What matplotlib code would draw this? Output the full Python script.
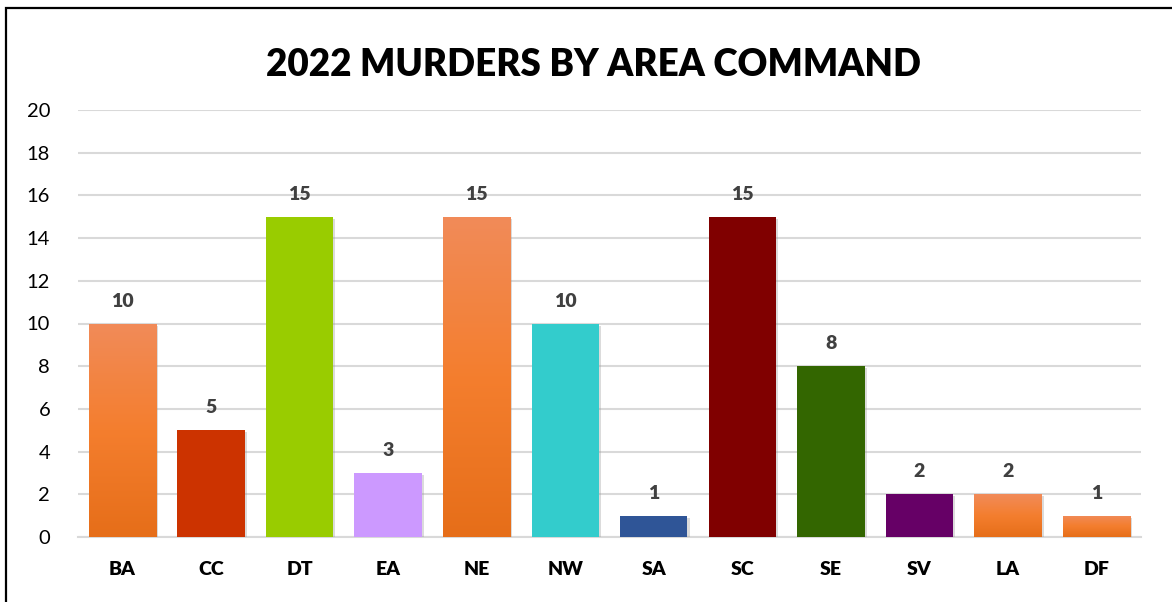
import matplotlib.pyplot as plt
import matplotlib.patheffects as pe
from matplotlib.colors import LinearSegmentedColormap
from matplotlib.patches import Rectangle
import numpy as np

# data
areas = ["BA", "CC", "DT", "EA", "NE", "NW", "SA", "SC", "SE", "SV", "LA", "DF"]
murders = [10, 5, 15, 3, 15, 10, 1, 15, 8, 2, 2, 1]
colors = ["gradient", "#CC3300", "#99CC00", "#CC99FF", "gradient", "#33CCCC",
          "#2F5597", "#800000", "#336600", "#660066", "gradient", "gradient"]
yticks = list(range(0, 21, 2))

plt.rcParams['font.family'] = ['Lato', 'DejaVu Sans']

fig = plt.figure(figsize=(11.72, 6.02), dpi=100)
fig.patches.append(Rectangle((6 / 1172, -0.05), 1.1, 0.05 + 594 / 602,
                             transform=fig.transFigure, fill=False,
                             edgecolor="black", linewidth=1.6))

ax = fig.add_axes([78 / 1172, 65 / 602, (1141 - 78) / 1172, (537 - 110) / 602])

orange_cmap = LinearSegmentedColormap.from_list(
    "orange", ["#F18B59", "#F47E2E", "#E66E19"])

x = np.arange(len(areas))
shadow = [pe.SimplePatchShadow(offset=(1.5, -1.5), shadow_rgbFace="#999999", alpha=0.35),
          pe.Normal()]
bars = ax.bar(x, murders, width=0.76,
              color=[c if c != "gradient" else "#F47E2E" for c in colors],
              zorder=3, path_effects=shadow)

# gradient fill on the orange bars
grad = np.linspace(0, 1, 256).reshape(-1, 1)
for b, c in zip(bars, colors):
    if c == "gradient":
        x0, w, h = b.get_x(), b.get_width(), b.get_height()
        im = ax.imshow(grad, cmap=orange_cmap, aspect="auto",
                       extent=(x0, x0 + w, 0, h), origin="upper", zorder=4)
        im.set_clip_path(b)

for b, v in zip(bars, murders):
    ax.text(b.get_x() + b.get_width() / 2, v + 0.65, str(v), ha="center",
            va="bottom", fontsize=14, fontweight="heavy", color="#404040")

ax.set_xlim(-0.5, len(areas) - 0.5)
ax.set_ylim(0, 20)
ax.set_yticks(yticks)
ax.set_xticks(x)
ax.set_xticklabels(areas, fontsize=14, fontweight="heavy")
ax.tick_params(axis="y", labelsize=14.5, length=0, pad=20)
ax.tick_params(axis="x", length=0, pad=17)
ax.grid(axis="y", color="#D9D9D9", linewidth=1.5, zorder=0)
for s in ["top", "right", "left"]:
    ax.spines[s].set_visible(False)
ax.spines["bottom"].set_color("#D9D9D9")
ax.spines["bottom"].set_linewidth(1.5)

fig.text(593 / 1172, 1 - 65 / 602, "2022 MURDERS BY AREA COMMAND", ha="center",
         va="center", fontsize=26.5, fontweight="heavy")

fig.savefig("out.png", dpi=100)
